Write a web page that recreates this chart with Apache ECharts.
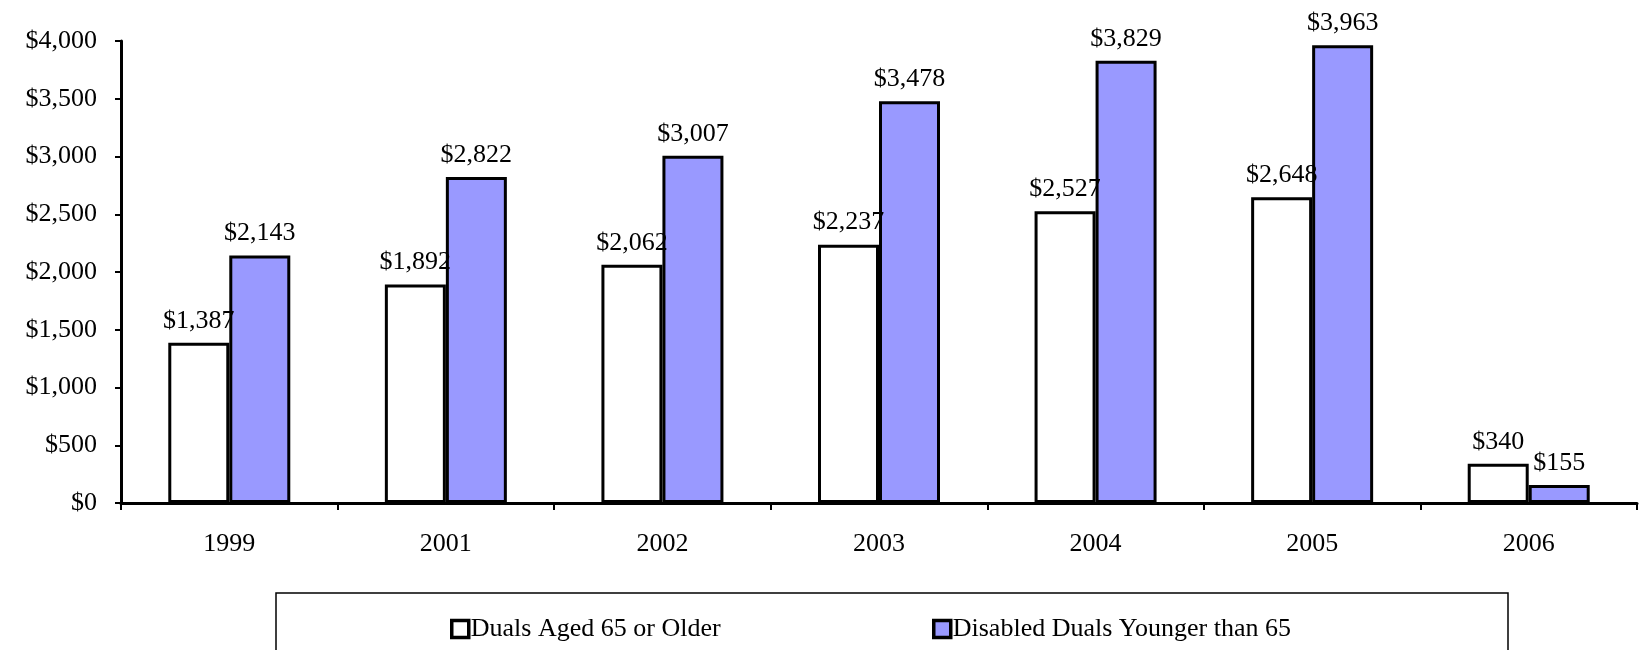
<!DOCTYPE html>
<html>
<head>
<meta charset="utf-8">
<script src="https://cdn.jsdelivr.net/npm/echarts@6/dist/echarts.min.js"></script>
<style>
  html, body { margin: 0; padding: 0; background: #fff; }
  #chart { width: 1639px; height: 650px; }
</style>
</head>
<body>
<div id="chart"></div>
<script>
// Spending per dual-eligible beneficiary, by year
const years = ['1999', '2001', '2002', '2003', '2004', '2005', '2006'];
const aged65Plus = [1387, 1892, 2062, 2237, 2527, 2648, 340];
const disabledUnder65 = [2143, 2822, 3007, 3478, 3829, 3963, 155];
const seriesNames = ['Duals Aged 65 or Older', 'Disabled Duals Younger than 65'];
const yMax = 4000;
const yStep = 500;

const FONT = '"Liberation Serif", "Times New Roman", serif';
const FS = 26;
const money = v => '$' + Number(v).toLocaleString('en-US');

const chart = echarts.init(document.getElementById('chart'), null, { renderer: 'canvas' });

const barStyle = (fill) => ({
  color: fill,
  borderColor: '#000',
  borderWidth: 3
});

const labelStyle = {
  show: true,
  position: 'top',
  distance: 9,
  formatter: p => money(p.value),
  fontFamily: FONT,
  fontSize: FS,
  color: '#000'
};

const legendCommon = {
  top: 611,
  itemWidth: 17, itemHeight: 17, itemGap: 0,
  icon: 'rect',
  itemStyle: { borderColor: '#000', borderWidth: 3.5 },
  textStyle: { fontFamily: FONT, fontSize: FS, color: '#000', padding: [0, 0, 0, -3] },
  selectedMode: false
};

chart.setOption({
  animation: false,
  backgroundColor: '#fff',
  grid: { left: 121, top: 41, right: 2, bottom: 147, containLabel: false },
  xAxis: {
    type: 'category',
    data: years,
    axisLine: { lineStyle: { color: '#000', width: 3 } },
    axisTick: { show: true, inside: false, length: 7, lineStyle: { color: '#000', width: 2 } },
    axisLabel: { margin: 28, fontFamily: FONT, fontSize: FS, color: '#000' },
    splitLine: { show: false }
  },
  yAxis: {
    type: 'value',
    min: 0,
    max: yMax,
    interval: yStep,
    axisLine: { show: true, lineStyle: { color: '#000', width: 3 } },
    axisTick: { show: true, inside: false, length: 6, lineStyle: { color: '#000', width: 2 } },
    axisLabel: { margin: 24, formatter: v => money(v), fontFamily: FONT, fontSize: FS, color: '#000' },
    splitLine: { show: false }
  },
  legend: [
    Object.assign({ data: [seriesNames[0]], left: 445 }, legendCommon),
    Object.assign({ data: [seriesNames[1]], left: 927 }, legendCommon)
  ],
  graphic: [
    {
      type: 'rect',
      shape: { x: 276, y: 593, width: 1232, height: 80 },
      style: { fill: 'none', stroke: '#000', lineWidth: 1.5 },
      z: -1
    }
  ],
  series: [
    {
      name: seriesNames[0],
      type: 'bar',
      data: aged65Plus,
      barWidth: 61,
      barGap: '0%',
      itemStyle: barStyle('#ffffff'),
      label: labelStyle
    },
    {
      name: seriesNames[1],
      type: 'bar',
      data: disabledUnder65,
      barWidth: 61,
      barGap: '0%',
      itemStyle: barStyle('#9999ff'),
      label: labelStyle
    }
  ]
});
</script>
</body>
</html>
